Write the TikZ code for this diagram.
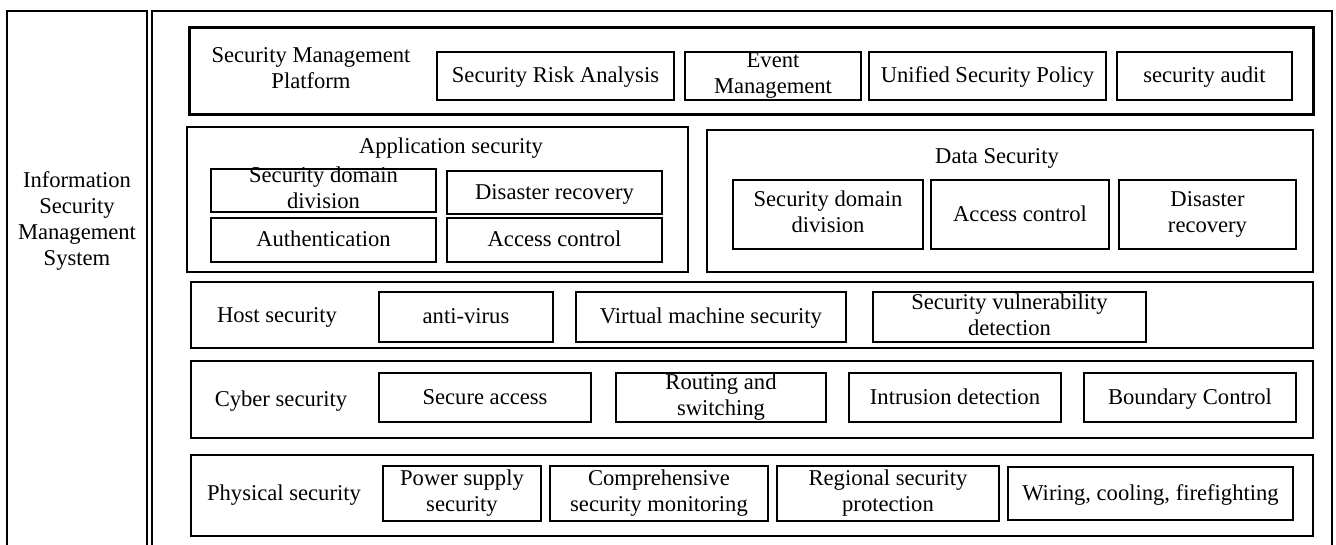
\documentclass[tikz,border=0pt]{standalone}
\usepackage{fontspec}
\setmainfont{Liberation Serif}
\newcommand\diagfont{\fontsize{22.6}{26}\selectfont}
\tikzset{
  txt/.style={inner sep=0pt, align=center, font=\diagfont,
    execute at begin node=\strut, execute at end node=\strut},
  box/.style={draw, line width=1.3pt, inner sep=0pt},
  thickbox/.style={box, line width=3pt},
  frame/.style={draw, inner sep=0pt},
  lbl/.style={txt},
  wh/.style 2 args={minimum width=#1pt, minimum height=#2pt},
  % text centred on a box, free to run over its frame
  say/.style={label={[txt, yshift=-1.5pt]center:{#1}}},
}
\begin{document}
\begin{tikzpicture}[x=1pt, y=-1pt]
\useasboundingbox (0,0) rectangle (1336,545);

% outer frames, open at the bottom edge of the page
\begin{scope}
  \clip (0,0) rectangle (1336,545);
  \node[frame, line width=2pt, wh={140}{580}] (ismsframe) at (77,301) {};
  \node[frame, line width=1.5pt, wh={1180}{580}] (layersframe) at (742,301) {};
\end{scope}
\node[lbl] (isms) at (77,222) {Information\\Security\\Management\\System};

% security management platform
\node[thickbox, wh={1124}{87}] (platform) at (751,71.5) {};
\node[lbl] (platformlbl) at (311,72) {Security Management\\Platform};
\node[box, wh={237}{48}, say={Security Risk Analysis}] (risk) at (555.5,76) {};
\node[box, wh={176}{48}, say={Event\\Management}] (event) at (773,76) {};
\node[box, wh={237}{48}, say={Unified Security Policy}] (policy) at (987.5,76) {};
\node[box, wh={175}{48}, say={security audit}] (audit) at (1204.5,76) {};

% application security
\node[box, wh={501}{145}] (app) at (437.5,199.5) {};
\node[lbl] (applbl) at (451,148) {Application security};
\node[box, wh={225}{43}, say={Security domain\\division}] (appdomain) at (323.5,190.5) {};
\node[box, wh={215}{43}, say={Disaster recovery}] (appdisaster) at (554.5,192.5) {};
\node[box, wh={225}{44}, say={Authentication}] (appauth) at (323.5,240) {};
\node[box, wh={215}{44}, say={Access control}] (appaccess) at (554.5,240) {};

% data security
\node[box, wh={606}{142}] (data) at (1010,201) {};
\node[lbl] (datalbl) at (997,158) {Data Security};
\node[box, wh={190}{69}, say={Security domain\\division}] (datadomain) at (828,214.5) {};
\node[box, wh={178}{69}, say={Access control}] (dataaccess) at (1020,214.5) {};
\node[box, wh={177}{69}, say={Disaster\\recovery}] (datadisaster) at (1207.5,214.5) {};

% host security
\node[box, wh={1122}{66}] (host) at (752,315) {};
\node[lbl] (hostlbl) at (277,317) {Host security};
\node[box, wh={174}{50}, say={anti-virus}] (antivirus) at (466,317) {};
\node[box, wh={270}{50}, say={Virtual machine security}] (vm) at (711,317) {};
\node[box, wh={273}{50}, say={Security vulnerability\\detection}] (vuln) at (1009.5,317) {};

% cyber security
\node[box, wh={1122}{77}] (cyber) at (752,399.5) {};
\node[lbl] (cyberlbl) at (281,401) {Cyber security};
\node[box, wh={212}{49}, say={Secure access}] (access) at (485,397.5) {};
\node[box, wh={210}{49}, say={Routing and\\switching}] (routing) at (721,397.5) {};
\node[box, wh={212}{49}, say={Intrusion detection}] (intrusion) at (955,397.5) {};
\node[box, wh={212}{49}, say={Boundary Control}] (boundary) at (1190,397.5) {};

% physical security
\node[box, wh={1122}{81}] (physical) at (752,495.5) {};
\node[lbl] (physicallbl) at (284,495) {Physical security};
\node[box, wh={158}{55}, say={Power supply\\security}] (power) at (462,493.5) {};
\node[box, wh={218}{55}, say={Comprehensive\\security monitoring}] (monitor) at (659,493.5) {};
\node[box, wh={222}{55}, say={Regional security\\protection}] (regional) at (888,493.5) {};
\node[box, wh={285}{53}, say={Wiring, cooling, firefighting}] (wiring) at (1150.5,493.5) {};
\end{tikzpicture}
\end{document}
